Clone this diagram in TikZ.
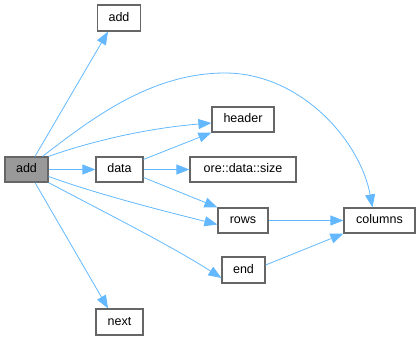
\documentclass[tikz,border=0pt]{standalone}
\usepackage{fontspec}
\setmainfont{Liberation Sans}
\usetikzlibrary{arrows.meta}
\definecolor{edgeblue}{HTML}{63B8FF}
\definecolor{nodeborder}{HTML}{666666}
\definecolor{mainfill}{HTML}{999999}
\tikzset{
  box/.style={draw=nodeborder, line width=1.2pt, fill=white, inner sep=0pt,
    font=\fontsize{12.5}{14}\selectfont, text height=9pt, text depth=2.5pt},
  mainbox/.style={box, fill=mainfill},
  edge/.style={draw=edgeblue, line width=0.8pt,
    -{Triangle[length=13pt,width=10pt]}}
}
\begin{document}
\begin{tikzpicture}[x=1pt,y=-1pt]
\useasboundingbox (0,0) rectangle (420,340);
\node[mainbox, minimum width=43pt, minimum height=25pt] (a) at (26.5,169.5) {add};
\node[box, minimum width=43pt, minimum height=26pt] (add1) at (119,18) {add};
\node[box, minimum width=47pt, minimum height=25pt] (data) at (119.5,169.5) {data};
\node[box, minimum width=106pt, minimum height=25pt] (size) at (243,169.5) {ore::data::size};
\node[box, minimum width=62pt, minimum height=25pt] (header) at (243,119.5) {header};
\node[box, minimum width=50pt, minimum height=25pt] (rows) at (243,220.5) {rows};
\node[box, minimum width=43pt, minimum height=26pt] (end) at (243.5,270) {end};
\node[box, minimum width=71pt, minimum height=25pt] (columns) at (379.5,220.5) {columns};
\node[box, minimum width=47pt, minimum height=26pt] (next) at (119.5,322) {next};

\draw[edge] ([xshift=8.5pt]a.north) -- ([xshift=-11pt]add1.south);
\draw[edge] ([xshift=16pt]a.north) .. controls (90,120) and (150,73) .. (225,73)
  .. controls (300,73) and (360,140) .. ([xshift=-7pt]columns.north);
\draw[edge] (a.north east) .. controls (95,140) and (150,128) .. ([yshift=-3.5pt]header.west);
\draw[edge] (a.east) -- (data.west);
\draw[edge] ([yshift=-7pt]a.east) .. controls (100,195) and (160,210) .. ([yshift=-4pt]rows.west);
\draw[edge] (a.south east) .. controls (100,210) and (170,245) .. ([yshift=-8pt]end.west);
\draw[edge] ([xshift=8.5pt]a.south) -- ([xshift=-11.5pt]next.north);
\draw[edge] ([yshift=-3pt]data.north east) -- (header.south west);
\draw[edge] (data.east) -- (size.west);
\draw[edge] ([yshift=-8pt]data.east) -- (rows.north west);
\draw[edge] (rows.east) -- (columns.west);
\draw[edge] ([yshift=5pt]end.east) -- (columns.south west);
\end{tikzpicture}
\end{document}
